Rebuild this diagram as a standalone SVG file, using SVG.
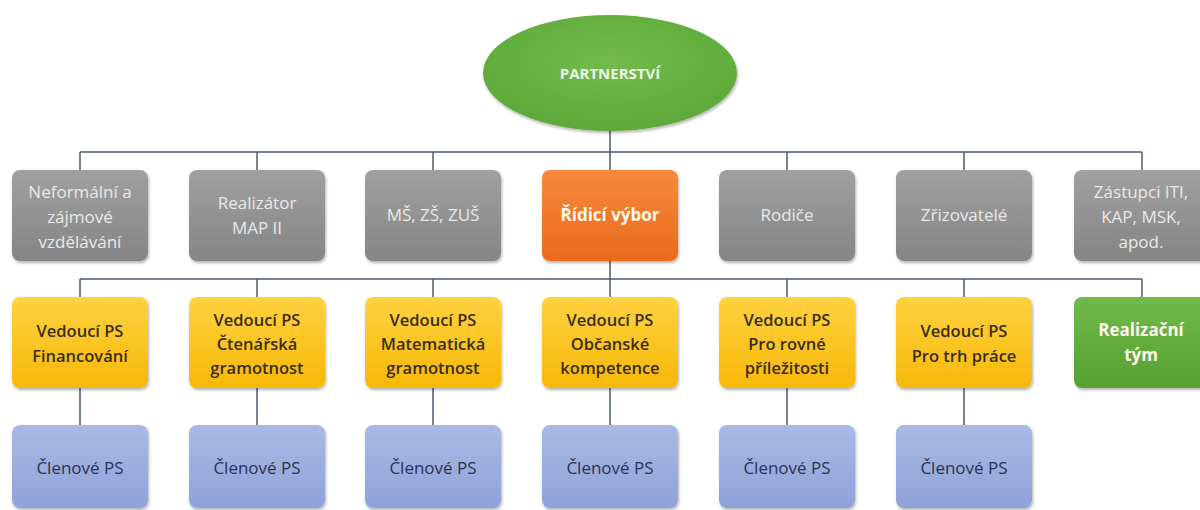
<svg xmlns="http://www.w3.org/2000/svg" width="1200" height="510" viewBox="0 0 1200 510">
<defs>
<linearGradient id="gGray" x1="0" y1="0" x2="0" y2="1"><stop offset="0" stop-color="#a0a0a0"/><stop offset="1" stop-color="#858585"/></linearGradient>
<linearGradient id="gOrange" x1="0" y1="0" x2="0" y2="1"><stop offset="0" stop-color="#f58a3c"/><stop offset="1" stop-color="#ea6a1c"/></linearGradient>
<linearGradient id="gYellow" x1="0" y1="0" x2="0" y2="1"><stop offset="0" stop-color="#ffd23f"/><stop offset="1" stop-color="#f7b80a"/></linearGradient>
<linearGradient id="gGreen" x1="0" y1="0" x2="0" y2="1"><stop offset="0" stop-color="#70ba4a"/><stop offset="1" stop-color="#57a132"/></linearGradient>
<linearGradient id="gBlue" x1="0" y1="0" x2="0" y2="1"><stop offset="0" stop-color="#aab9e4"/><stop offset="1" stop-color="#8ea3d9"/></linearGradient>
<radialGradient id="gEll" cx="0.5" cy="0.4" r="0.6"><stop offset="0" stop-color="#72bb4c"/><stop offset="1" stop-color="#5ea93a"/></radialGradient>
<filter id="sh" x="-10%" y="-10%" width="120%" height="130%"><feDropShadow dx="1" dy="2" stdDeviation="1.8" flood-color="#000" flood-opacity="0.3"/></filter>
</defs>
<style>
text{font-family:"Open Sans","Noto Sans","Liberation Sans",sans-serif;text-anchor:middle}
.gray{fill:url(#gGray);filter:url(#sh)}
.orange{fill:url(#gOrange);filter:url(#sh)}
.yellow{fill:url(#gYellow);filter:url(#sh)}
.green{fill:url(#gGreen);filter:url(#sh)}
.blue{fill:url(#gBlue);filter:url(#sh)}
.tg{font-size:17px;fill:#e9e9e9}
.tw{font-size:17px;font-weight:700;fill:#fff6ea}
.ty{font-size:16.5px;font-weight:600;fill:#3a2e10}
.tb{font-size:17px;fill:#2b3350}
.conn line{stroke:#4b5a6e;stroke-width:1.5}
</style>
<rect width="1200" height="510" fill="#ffffff"/>
<g class="conn" id="connectors">
<line x1="610" y1="131" x2="610" y2="152"/>
<line x1="80" y1="152" x2="1142" y2="152"/>
<line x1="80" y1="152" x2="80" y2="170"/>
<line x1="257" y1="152" x2="257" y2="170"/>
<line x1="433" y1="152" x2="433" y2="170"/>
<line x1="610" y1="152" x2="610" y2="170"/>
<line x1="787" y1="152" x2="787" y2="170"/>
<line x1="964" y1="152" x2="964" y2="170"/>
<line x1="1142" y1="152" x2="1142" y2="170"/>
<line x1="610" y1="261" x2="610" y2="279"/>
<line x1="80" y1="279" x2="1142" y2="279"/>
<line x1="80" y1="279" x2="80" y2="297"/>
<line x1="257" y1="279" x2="257" y2="297"/>
<line x1="433" y1="279" x2="433" y2="297"/>
<line x1="610" y1="279" x2="610" y2="297"/>
<line x1="787" y1="279" x2="787" y2="297"/>
<line x1="964" y1="279" x2="964" y2="297"/>
<line x1="1142" y1="279" x2="1142" y2="297"/>
<line x1="80" y1="388" x2="80" y2="425"/>
<line x1="257" y1="388" x2="257" y2="425"/>
<line x1="433" y1="388" x2="433" y2="425"/>
<line x1="610" y1="388" x2="610" y2="425"/>
<line x1="787" y1="388" x2="787" y2="425"/>
<line x1="964" y1="388" x2="964" y2="425"/>
</g>
<g id="partnerstvi">
<ellipse cx="610" cy="73" rx="127" ry="58" fill="url(#gEll)" filter="url(#sh)"/>
<text x="610" y="79" style="font-size:15px;font-weight:700;fill:#eef6e6">PARTNERSTVÍ</text>
</g>
<g id="neformalni"><rect class="gray" x="12" y="170" width="136" height="91" rx="8"/>
<text class="tg" x="80" y="198">Neformální a</text><text class="tg" x="80" y="223">zájmové</text><text class="tg" x="80" y="248">vzdělávání</text></g>
<g id="realizator"><rect class="gray" x="189" y="170" width="136" height="91" rx="8"/>
<text class="tg" x="257" y="209">Realizátor</text><text class="tg" x="257" y="234">MAP II</text></g>
<g id="ms-zs-zus"><rect class="gray" x="365" y="170" width="136" height="91" rx="8"/>
<text class="tg" x="433" y="221">MŠ, ZŠ, ZUŠ</text></g>
<g id="ridici-vybor"><rect class="orange" x="542" y="170" width="136" height="91" rx="8"/>
<text class="tw" x="610" y="221">Řídicí výbor</text></g>
<g id="rodice"><rect class="gray" x="719" y="170" width="136" height="91" rx="8"/>
<text class="tg" x="787" y="221">Rodiče</text></g>
<g id="zrizovatele"><rect class="gray" x="896" y="170" width="136" height="91" rx="8"/>
<text class="tg" x="964" y="221">Zřizovatelé</text></g>
<g id="zastupci"><rect class="gray" x="1074" y="170" width="136" height="91" rx="8"/>
<text class="tg" x="1141" y="198">Zástupci ITI,</text><text class="tg" x="1141" y="223">KAP, MSK,</text><text class="tg" x="1141" y="248">apod.</text></g>

<g id="ps-financovani"><rect class="yellow" x="12" y="297" width="136" height="91" rx="8"/>
<text class="ty" x="80" y="337">Vedoucí PS</text><text class="ty" x="80" y="362">Financování</text></g>
<g id="ps-ctenarska"><rect class="yellow" x="189" y="297" width="136" height="91" rx="8"/>
<text class="ty" x="257" y="326">Vedoucí PS</text><text class="ty" x="257" y="350">Čtenářská</text><text class="ty" x="257" y="374">gramotnost</text></g>
<g id="ps-matematicka"><rect class="yellow" x="365" y="297" width="136" height="91" rx="8"/>
<text class="ty" x="433" y="326">Vedoucí PS</text><text class="ty" x="433" y="350">Matematická</text><text class="ty" x="433" y="374">gramotnost</text></g>
<g id="ps-obcanske"><rect class="yellow" x="542" y="297" width="136" height="91" rx="8"/>
<text class="ty" x="610" y="326">Vedoucí PS</text><text class="ty" x="610" y="350">Občanské</text><text class="ty" x="610" y="374">kompetence</text></g>
<g id="ps-rovne"><rect class="yellow" x="719" y="297" width="136" height="91" rx="8"/>
<text class="ty" x="787" y="326">Vedoucí PS</text><text class="ty" x="787" y="350">Pro rovné</text><text class="ty" x="787" y="374">příležitosti</text></g>
<g id="ps-trh"><rect class="yellow" x="896" y="297" width="136" height="91" rx="8"/>
<text class="ty" x="964" y="337">Vedoucí PS</text><text class="ty" x="964" y="362">Pro trh práce</text></g>
<g id="realizacni-tym"><rect class="green" x="1074" y="297" width="136" height="91" rx="8"/>
<text class="tw" x="1141" y="336">Realizační</text><text class="tw" x="1141" y="361">tým</text></g>

<g id="clenove-1"><rect class="blue" x="12" y="425" width="136" height="83" rx="8"/><text class="tb" x="80" y="474">Členové PS</text></g>
<g id="clenove-2"><rect class="blue" x="189" y="425" width="136" height="83" rx="8"/><text class="tb" x="257" y="474">Členové PS</text></g>
<g id="clenove-3"><rect class="blue" x="365" y="425" width="136" height="83" rx="8"/><text class="tb" x="433" y="474">Členové PS</text></g>
<g id="clenove-4"><rect class="blue" x="542" y="425" width="136" height="83" rx="8"/><text class="tb" x="610" y="474">Členové PS</text></g>
<g id="clenove-5"><rect class="blue" x="719" y="425" width="136" height="83" rx="8"/><text class="tb" x="787" y="474">Členové PS</text></g>
<g id="clenove-6"><rect class="blue" x="896" y="425" width="136" height="83" rx="8"/><text class="tb" x="964" y="474">Členové PS</text></g>
</svg>
